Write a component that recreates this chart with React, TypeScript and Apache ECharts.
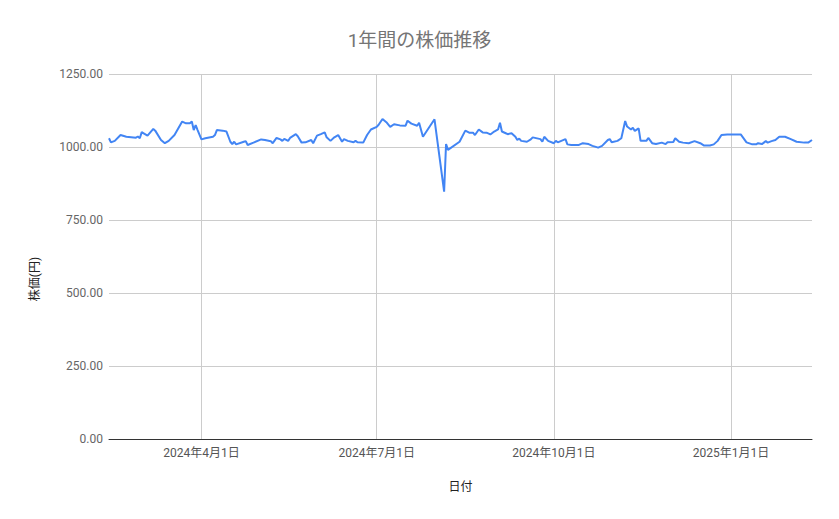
import { useEffect, useRef } from 'react'
import * as echarts from 'echarts'

const FONT = "Roboto, 'Noto Sans CJK JP', sans-serif"

// 日付と終値
const dates = [
  '2024-02-13', '2024-02-14', '2024-02-16', '2024-02-19', '2024-02-22', '2024-02-27', '2024-02-28', '2024-02-29',
  '2024-03-01', '2024-03-02', '2024-03-04', '2024-03-07', '2024-03-08', '2024-03-11', '2024-03-13', '2024-03-15',
  '2024-03-18', '2024-03-22', '2024-03-24', '2024-03-26', '2024-03-27', '2024-03-28', '2024-03-29', '2024-03-30',
  '2024-04-01', '2024-04-03', '2024-04-07', '2024-04-08', '2024-04-09', '2024-04-12', '2024-04-14', '2024-04-16',
  '2024-04-17', '2024-04-18', '2024-04-19', '2024-04-23', '2024-04-24', '2024-04-25', '2024-04-28', '2024-05-02',
  '2024-05-04', '2024-05-07', '2024-05-08', '2024-05-10', '2024-05-12', '2024-05-13', '2024-05-14', '2024-05-16',
  '2024-05-17', '2024-05-20', '2024-05-21', '2024-05-23', '2024-05-25', '2024-05-28', '2024-05-29', '2024-05-31',
  '2024-06-02', '2024-06-04', '2024-06-05', '2024-06-07', '2024-06-09', '2024-06-11', '2024-06-13', '2024-06-14',
  '2024-06-16', '2024-06-19', '2024-06-20', '2024-06-21', '2024-06-24', '2024-06-26', '2024-06-28', '2024-07-01',
  '2024-07-02', '2024-07-04', '2024-07-06', '2024-07-08', '2024-07-10', '2024-07-13', '2024-07-16', '2024-07-17',
  '2024-07-19', '2024-07-22', '2024-07-23', '2024-07-25', '2024-07-31', '2024-08-05', '2024-08-06', '2024-08-07',
  '2024-08-13', '2024-08-16', '2024-08-18', '2024-08-20', '2024-08-21', '2024-08-23', '2024-08-25', '2024-08-27',
  '2024-08-29', '2024-08-31', '2024-09-02', '2024-09-03', '2024-09-04', '2024-09-06', '2024-09-07', '2024-09-09',
  '2024-09-11', '2024-09-12', '2024-09-13', '2024-09-14', '2024-09-17', '2024-09-19', '2024-09-20', '2024-09-24',
  '2024-09-25', '2024-09-26', '2024-09-28', '2024-10-01', '2024-10-02', '2024-10-03', '2024-10-07', '2024-10-08',
  '2024-10-10', '2024-10-14', '2024-10-16', '2024-10-19', '2024-10-21', '2024-10-24', '2024-10-26', '2024-10-29',
  '2024-10-30', '2024-10-31', '2024-11-03', '2024-11-05', '2024-11-07', '2024-11-08', '2024-11-10', '2024-11-11',
  '2024-11-12', '2024-11-14', '2024-11-15', '2024-11-18', '2024-11-19', '2024-11-21', '2024-11-23', '2024-11-26',
  '2024-11-28', '2024-11-29', '2024-12-02', '2024-12-03', '2024-12-05', '2024-12-07', '2024-12-10', '2024-12-13',
  '2024-12-16', '2024-12-18', '2024-12-21', '2024-12-23', '2024-12-25', '2024-12-27', '2024-12-30', '2025-01-06',
  '2025-01-09', '2025-01-12', '2025-01-14', '2025-01-15', '2025-01-17', '2025-01-19', '2025-01-20', '2025-01-22',
  '2025-01-24', '2025-01-26', '2025-01-29', '2025-02-01', '2025-02-04', '2025-02-08', '2025-02-10', '2025-02-12',
]

const prices = [
  1030, 1016, 1021, 1041, 1035, 1032, 1036, 1030,
  1051, 1047, 1039, 1062, 1056, 1024, 1013, 1021,
  1041, 1087, 1081, 1081, 1087, 1058, 1075, 1058,
  1026, 1030, 1035, 1041, 1058, 1056, 1053, 1018,
  1010, 1018, 1009, 1018, 1020, 1007, 1015, 1026,
  1024, 1020, 1013, 1031, 1026, 1021, 1028, 1021,
  1031, 1044, 1037, 1015, 1016, 1024, 1013, 1039,
  1044, 1050, 1033, 1021, 1033, 1041, 1018, 1027,
  1021, 1016, 1021, 1016, 1015, 1041, 1060, 1069,
  1076, 1096, 1085, 1069, 1078, 1074, 1073, 1090,
  1080, 1073, 1083, 1035, 1095, 847, 1010, 990,
  1018, 1056, 1049, 1049, 1041, 1060, 1050, 1049,
  1043, 1053, 1060, 1083, 1053, 1047, 1044, 1047,
  1035, 1024, 1029, 1021, 1018, 1026, 1033, 1027,
  1018, 1035, 1021, 1013, 1021, 1016, 1027, 1009,
  1007, 1007, 1013, 1010, 1004, 998, 1004, 1024,
  1027, 1016, 1021, 1030, 1089, 1070, 1060, 1066,
  1055, 1064, 1021, 1021, 1031, 1013, 1010, 1015,
  1010, 1016, 1017, 1030, 1018, 1015, 1013, 1020,
  1013, 1005, 1005, 1009, 1021, 1041, 1043, 1043,
  1016, 1009, 1009, 1013, 1010, 1020, 1015, 1020,
  1024, 1035, 1035, 1027, 1018, 1015, 1015, 1024,
]

const xTicks = ['2024-04-01', '2024-07-01', '2024-10-01', '2025-01-01']
const xRange = ['2024-02-13', '2025-02-12']

const toTime = (s: string) => {
  const [y, m, d] = s.split('-').map(Number)
  return new Date(y, m - 1, d).getTime()
}

export default function App() {
  const chartRef = useRef<HTMLDivElement | null>(null)

  useEffect(() => {
    if (!chartRef.current) {
      return
    }

    const tickValues = xTicks.map(toTime)
    const chart = echarts.init(chartRef.current, null, { renderer: 'svg' })
    chart.setOption({
      animation: false,
      backgroundColor: '#ffffff',
      textStyle: { fontFamily: FONT },
      title: {
        text: '1年間の株価推移',
        left: 'center',
        top: 26,
        textStyle: { fontFamily: FONT, fontSize: 19, fontWeight: 'normal', color: '#757575' },
      },
      graphic: [
        {
          type: 'text',
          x: 35,
          y: 279,
          rotation: Math.PI / 2,
          style: {
            text: '株価(円)',
            font: `12px ${FONT}`,
            fill: '#222222',
            align: 'center',
            verticalAlign: 'middle',
          },
        },
      ],
      grid: { top: 74, left: 109, right: 27, bottom: 80 },
      xAxis: {
        type: 'value',
        min: toTime(xRange[0]),
        max: toTime(xRange[1]),
        name: '日付',
        nameLocation: 'middle',
        nameGap: 42,
        nameTextStyle: { fontFamily: FONT, fontSize: 12, color: '#222222' },
        axisLine: { show: true, onZero: false, lineStyle: { color: '#333333', width: 1 } },
        axisTick: { show: false, customValues: tickValues },
        axisLabel: {
          customValues: tickValues,
          fontFamily: FONT,
          fontSize: 12,
          color: '#555555',
          margin: 8,
          formatter: (val: number) => {
            const d = new Date(val)
            return `${d.getFullYear()}年${d.getMonth() + 1}月${d.getDate()}日`
          },
        },
        splitLine: { show: true, lineStyle: { color: '#cccccc', width: 1 } },
      },
      yAxis: {
        type: 'value',
        min: 0,
        max: 1250,
        interval: 250,
        axisLine: { show: false },
        axisTick: { show: false },
        axisLabel: {
          fontFamily: FONT,
          fontSize: 12,
          color: '#666666',
          margin: 6,
          formatter: (v: number) => v.toFixed(2),
        },
        splitLine: { lineStyle: { color: '#cccccc', width: 1 } },
      },
      series: [
        {
          name: '株価',
          type: 'line',
          symbol: 'none',
          lineStyle: { color: '#4285f4', width: 2 },
          itemStyle: { color: '#4285f4' },
          data: dates.map((d, i) => [toTime(d), prices[i]]),
        },
      ],
    })

    return () => {
      chart.dispose()
    }
  }, [])

  return (
    <div
      ref={chartRef}
      style={{ position: 'fixed', left: 0, top: 0, width: 839, height: 519 }}
    />
  )
}
